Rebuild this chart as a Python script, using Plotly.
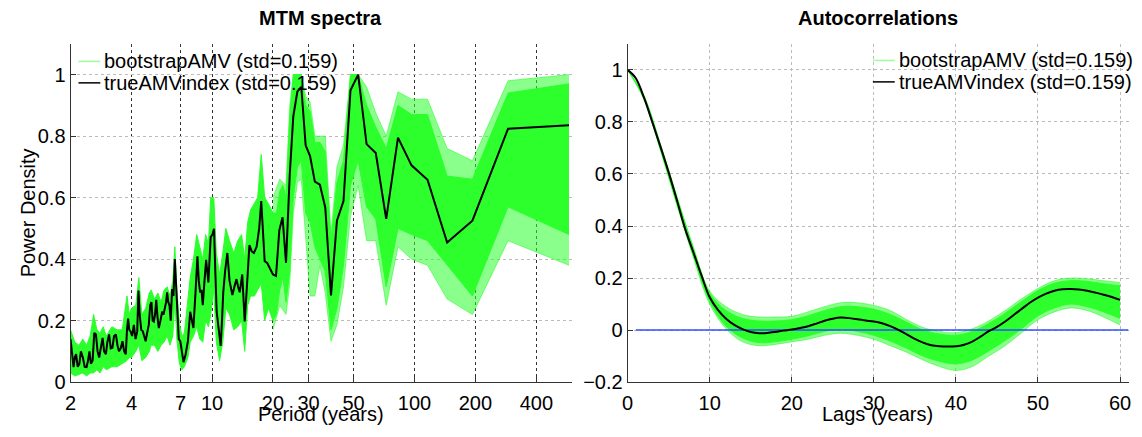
import plotly.graph_objects as go

# ---------------- MTM spectra (left) ----------------
spec_period = [2.0, 2.03, 2.07, 2.10, 2.13, 2.17, 2.21, 2.25, 2.30, 2.35, 2.40, 2.44, 2.48, 2.52, 2.57,
               2.62, 2.67, 2.72, 2.77, 2.82, 2.88, 2.93, 2.99, 3.04, 3.10, 3.16, 3.22, 3.28, 3.35, 3.41,
               3.47, 3.54, 3.61, 3.68, 3.75, 3.80, 3.85, 3.90, 3.96, 4.03, 4.11, 4.19, 4.27, 4.33, 4.39,
               4.47, 4.55, 4.62, 4.70, 4.78, 4.87, 4.95, 5.02, 5.09, 5.16, 5.23, 5.30, 5.38, 5.46, 5.56,
               5.67, 5.76, 5.85, 5.93, 6.0, 6.08, 6.16, 6.25, 6.35, 6.45, 6.55, 6.65, 6.75, 6.85, 6.97,
               7.1, 7.23, 7.4, 7.6, 7.8, 7.95, 8.09, 8.3, 8.47, 8.6, 8.73, 8.87, 9.0, 9.18, 9.35, 9.47,
               9.59, 9.72, 9.85, 10.05, 10.23, 10.38, 10.54, 10.8, 11.03, 11.2, 11.36, 11.6, 11.9, 12.2,
               12.6, 12.9, 13.2, 13.45, 13.7, 14.1, 14.5, 14.9, 15.3, 15.7, 16.1, 16.6, 17.1, 17.5, 18.2,
               18.7, 19.3, 20.0, 20.7, 21.5, 22.3, 23.2, 24.2, 25.2, 26.4, 27.6, 29.0, 30.5, 32.2, 34.1,
               36.25, 38.7, 41.4, 44.6, 48.3, 52.7, 58.0, 64.4, 72.5, 82.9, 96.7, 116.0, 145.0, 193.3,
               290.0, 580.0]
spec_true = [0.14, 0.09, 0.049, 0.08, 0.091, 0.05, 0.059, 0.10, 0.08, 0.05, 0.049, 0.07, 0.10, 0.06, 0.07,
             0.16, 0.155, 0.10, 0.08, 0.11, 0.144, 0.10, 0.091, 0.13, 0.155, 0.11, 0.112, 0.15, 0.155, 0.12,
             0.10, 0.11, 0.133, 0.10, 0.091, 0.17, 0.207, 0.17, 0.165, 0.15, 0.186, 0.14, 0.165, 0.298, 0.22,
             0.17, 0.165, 0.15, 0.133, 0.16, 0.186, 0.25, 0.26, 0.20, 0.197, 0.22, 0.268, 0.21, 0.176, 0.20,
             0.229, 0.22, 0.24, 0.26, 0.292, 0.26, 0.25, 0.20, 0.303, 0.28, 0.40, 0.30, 0.20, 0.14, 0.133,
             0.10, 0.065, 0.09, 0.133, 0.229, 0.20, 0.176, 0.30, 0.409, 0.33, 0.292, 0.30, 0.25, 0.33, 0.398, 0.36,
             0.324, 0.40, 0.472, 0.48, 0.499, 0.36, 0.229, 0.17, 0.118, 0.20, 0.292, 0.36, 0.42, 0.33,
             0.283, 0.31, 0.335, 0.31, 0.292, 0.35, 0.197, 0.32, 0.446, 0.425, 0.42, 0.44, 0.50, 0.589, 0.393,
             0.388, 0.37, 0.35, 0.345, 0.494, 0.536, 0.388, 0.674, 0.864, 0.945, 0.96, 0.77, 0.735, 0.652, 0.642,
             0.568, 0.282, 0.525, 0.589, 0.949, 1.0, 0.774, 0.745, 0.531, 0.795, 0.705, 0.658, 0.454, 0.525,
             0.824, 0.835]

# dense bootstrap envelope (core)
band_period = [2.0, 2.1, 2.2, 2.3, 2.4, 2.5, 2.6, 2.7, 2.8, 2.9, 3.0, 3.2, 3.4, 3.6, 3.8, 3.9, 4.0, 4.2,
               4.35, 4.5, 4.7, 4.9, 5.0, 5.2, 5.4, 5.6, 5.8, 6.0, 6.2, 6.4, 6.55, 6.7, 6.9, 7.1, 7.3, 7.6,
               7.8, 8.1, 8.4, 8.7, 9.0, 9.3, 9.6, 9.85, 10.2, 10.5, 10.9, 11.3, 11.7, 12.2, 12.8, 13.4,
               14.0, 14.5, 15.0, 15.5, 16.2, 16.8, 17.5, 18.2, 19.0, 20.0, 20.8, 21.6, 22.4, 23.2, 24.2,
               25.2, 26.4, 27.6, 29.0, 30.5, 32.2, 34.1, 36.25, 38.7, 41.4, 44.6, 48.3, 52.7, 58.0, 64.4,
               72.5, 82.9, 96.7, 116.0, 145.0, 193.3, 290.0, 580.0]
band_hi = [0.17, 0.13, 0.12, 0.14, 0.12, 0.15, 0.22, 0.17, 0.16, 0.18, 0.15, 0.18, 0.17, 0.17, 0.28, 0.22,
           0.24, 0.25, 0.34, 0.22, 0.24, 0.29, 0.30, 0.27, 0.29, 0.26, 0.30, 0.31, 0.28, 0.33, 0.44, 0.30,
           0.19, 0.15, 0.16, 0.26, 0.34, 0.40, 0.48, 0.44, 0.40, 0.48, 0.45, 0.60, 0.60, 0.42, 0.35, 0.42,
           0.50, 0.46, 0.42, 0.46, 0.48, 0.40, 0.52, 0.56, 0.58, 0.60, 0.74, 0.60, 0.58, 0.55, 0.55, 0.62,
           0.64, 0.60, 0.86, 1.0, 1.0, 1.0, 0.90, 0.88, 0.78, 0.78, 0.75, 0.46, 0.65, 0.72, 1.0, 1.0, 0.90,
           0.83, 0.76, 0.90, 0.87, 0.87, 0.67, 0.66, 0.94, 0.97]
band_lo = [0.03, 0.02, 0.025, 0.03, 0.02, 0.03, 0.03, 0.04, 0.03, 0.05, 0.04, 0.05, 0.05, 0.06, 0.07, 0.08,
           0.08, 0.10, 0.12, 0.07, 0.08, 0.10, 0.12, 0.12, 0.10, 0.12, 0.13, 0.15, 0.12, 0.15, 0.27, 0.14,
           0.06, 0.04, 0.05, 0.08, 0.13, 0.15, 0.18, 0.14, 0.13, 0.20, 0.18, 0.22, 0.30, 0.13, 0.07, 0.13,
           0.24, 0.22, 0.17, 0.18, 0.20, 0.10, 0.25, 0.28, 0.28, 0.30, 0.32, 0.20, 0.24, 0.20, 0.22, 0.30,
           0.34, 0.26, 0.36, 0.60, 0.70, 0.72, 0.55, 0.52, 0.44, 0.40, 0.36, 0.17, 0.24, 0.38, 0.64, 0.72,
           0.57, 0.53, 0.31, 0.50, 0.48, 0.46, 0.38, 0.28, 0.57, 0.48]

# sparse outlying bootstrap members (long periods)
out_period = [20.0, 21.6, 23.2, 24.2, 25.2, 26.4, 27.6, 29.0, 30.5, 32.2, 34.1, 36.25, 38.7, 41.4, 44.6,
              48.3, 52.7, 58.0, 64.4, 72.5, 82.9, 96.7, 116.0, 145.0, 193.3, 290.0, 580.0]
out_hi = [0.60, 0.66, 0.64, 0.90, 1.0, 1.0, 1.0, 0.93, 0.91, 0.80, 0.80, 0.80, 0.48, 0.70, 0.77,
          1.0, 1.0, 0.96, 0.875, 0.80, 0.944, 0.92, 0.92, 0.76, 0.72, 0.98, 1.0]
out_lo = [0.17, 0.25, 0.22, 0.32, 0.55, 0.65, 0.66, 0.48, 0.28, 0.28, 0.38, 0.29, 0.133, 0.187, 0.31,
          0.54, 0.64, 0.46, 0.46, 0.25, 0.44, 0.40, 0.38, 0.27, 0.22, 0.46, 0.38]

period_ticks = [2, 4, 7, 10, 20, 30, 50, 100, 200, 400]
spec_yticks = [0, 0.2, 0.4, 0.6, 0.8, 1.0]
spec_yticklabels = ["0", "0.2", "0.4", "0.6", "0.8", "1"]

# ---------------- Autocorrelations (right) ----------------
lags = list(range(61))
acf_true = [1.0, 0.968, 0.893, 0.80, 0.705, 0.606, 0.50, 0.39, 0.30, 0.21, 0.126, 0.078, 0.044, 0.02,
            0.004, -0.007, -0.012, -0.011, -0.007, -0.002, 0.002, 0.008, 0.015, 0.025, 0.036, 0.044,
            0.048, 0.046, 0.042, 0.037, 0.033, 0.026, 0.015, 0.001, -0.016, -0.034, -0.048, -0.058,
            -0.062, -0.063, -0.062, -0.056, -0.044, -0.025, -0.004, 0.012, 0.033, 0.057, 0.081, 0.105,
            0.125, 0.14, 0.151, 0.157, 0.158, 0.156, 0.151, 0.144, 0.136, 0.127, 0.116]
acf_band_lags = [0, 2, 4, 6, 8, 10, 12, 14, 16, 18, 20, 22, 24, 26, 28, 30, 32, 34, 36, 38, 40, 42, 44,
                 46, 48, 50, 52, 54, 56, 58, 60]
acf_out_hi = [1.0, 0.90, 0.715, 0.515, 0.32, 0.15, 0.09, 0.06, 0.05, 0.05, 0.053, 0.07, 0.09, 0.105, 0.105,
              0.095, 0.075, 0.04, 0.01, -0.005, -0.01, 0.005, 0.035, 0.075, 0.12, 0.16, 0.19, 0.20, 0.197,
              0.19, 0.183]
acf_out_lo = [1.0, 0.886, 0.69, 0.48, 0.28, 0.10, 0.005, -0.045, -0.06, -0.055, -0.045, -0.035, -0.02,
              -0.012, -0.02, -0.035, -0.06, -0.085, -0.115, -0.14, -0.155, -0.14, -0.10, -0.06, -0.01,
              0.04, 0.07, 0.085, 0.075, 0.05, 0.02]
acf_core_hi = [1.0, 0.898, 0.712, 0.51, 0.315, 0.142, 0.075, 0.045, 0.035, 0.035, 0.04, 0.055, 0.075, 0.09,
               0.09, 0.08, 0.06, 0.03, 0.0, -0.015, -0.02, -0.005, 0.025, 0.065, 0.11, 0.152, 0.18, 0.19,
               0.187, 0.178, 0.17]
acf_core_lo = [1.0, 0.888, 0.695, 0.487, 0.287, 0.11, 0.015, -0.03, -0.048, -0.045, -0.035, -0.022, -0.005,
               0.003, -0.005, -0.02, -0.042, -0.07, -0.1, -0.12, -0.13, -0.115, -0.08, -0.04, 0.005, 0.055,
               0.085, 0.1, 0.09, 0.07, 0.045]
zero_x = [1, 61]
zero_y = [0, 0]
lag_ticks = [0, 10, 20, 30, 40, 50, 60]
acf_yticks = [-0.2, 0, 0.2, 0.4, 0.6, 0.8, 1.0]
acf_yticklabels = ["\u22120.2", "0", "0.2", "0.4", "0.6", "0.8", "1"]

legend_labels = ["bootstrapAMV (std=0.159)", "trueAMVindex (std=0.159)"]

# ---------------- styling ----------------
W, H = 1142, 437
FONT = "Liberation Sans, Arial, Helvetica, sans-serif"
GREEN = "#2cff2c"
GREEN_LIGHT = "rgba(44,255,44,0.6)"
GREEN_FILL_LIGHT = "rgba(44,255,44,0.55)"
LEGEND_GREEN = "#9cff9c"


def px(x):
    return x / W


def py(y):
    return 1 - y / H


fig = go.Figure()

# left: outliers, core band, true line
fig.add_trace(go.Scatter(x=out_period, y=out_lo, mode="lines", line=dict(color=GREEN_LIGHT, width=1),
                         showlegend=False, hoverinfo="skip", xaxis="x", yaxis="y"))
fig.add_trace(go.Scatter(x=out_period, y=out_hi, mode="lines", line=dict(color=GREEN_LIGHT, width=1),
                         fill="tonexty", fillcolor=GREEN_FILL_LIGHT,
                         showlegend=False, hoverinfo="skip", xaxis="x", yaxis="y"))
fig.add_trace(go.Scatter(x=band_period, y=band_lo, mode="lines", line=dict(color=GREEN, width=1),
                         showlegend=False, hoverinfo="skip", xaxis="x", yaxis="y"))
fig.add_trace(go.Scatter(x=band_period, y=band_hi, mode="lines", line=dict(color=GREEN, width=1),
                         fill="tonexty", fillcolor=GREEN,
                         showlegend=False, hoverinfo="skip", xaxis="x", yaxis="y"))
fig.add_trace(go.Scatter(x=spec_period, y=spec_true, mode="lines", line=dict(color="black", width=2),
                         showlegend=False, hoverinfo="skip", xaxis="x", yaxis="y"))

# right
fig.add_trace(go.Scatter(x=acf_band_lags, y=acf_out_lo, mode="lines", line=dict(color=GREEN_LIGHT, width=1, shape="spline"),
                         showlegend=False, hoverinfo="skip", xaxis="x2", yaxis="y2"))
fig.add_trace(go.Scatter(x=acf_band_lags, y=acf_out_hi, mode="lines", line=dict(color=GREEN_LIGHT, width=1, shape="spline"),
                         fill="tonexty", fillcolor=GREEN_FILL_LIGHT,
                         showlegend=False, hoverinfo="skip", xaxis="x2", yaxis="y2"))
fig.add_trace(go.Scatter(x=acf_band_lags, y=acf_core_lo, mode="lines", line=dict(color=GREEN, width=1, shape="spline"),
                         showlegend=False, hoverinfo="skip", xaxis="x2", yaxis="y2"))
fig.add_trace(go.Scatter(x=acf_band_lags, y=acf_core_hi, mode="lines", line=dict(color=GREEN, width=1, shape="spline"),
                         fill="tonexty", fillcolor=GREEN,
                         showlegend=False, hoverinfo="skip", xaxis="x2", yaxis="y2"))
fig.add_trace(go.Scatter(x=zero_x, y=zero_y, mode="lines", line=dict(color="#2f4dff", width=1.5),
                         showlegend=False, hoverinfo="skip", xaxis="x2", yaxis="y2"))
fig.add_trace(go.Scatter(x=lags, y=acf_true, mode="lines", line=dict(color="black", width=2, shape="spline"),
                         showlegend=False, hoverinfo="skip", xaxis="x2", yaxis="y2"))

ydom = [py(392), py(45)]
axis_common = dict(showline=True, linecolor="#333", linewidth=1, ticks="inside", ticklen=5,
                   tickcolor="#333", zeroline=False, mirror=False,
                   tickfont=dict(family=FONT, size=20, color="black"))

fig.update_layout(
    width=W, height=H, margin=dict(l=0, r=0, t=0, b=0),
    paper_bgcolor="white", plot_bgcolor="white", showlegend=False,
    xaxis=dict(domain=[px(65), px(570)], type="log", range=[0.30103, 2.7782],
               tickvals=period_ticks, ticktext=[str(v) for v in period_ticks],
               showgrid=True, gridcolor="#333", griddash="dot", gridwidth=1, anchor="y",
               ticklabelstandoff=3, **axis_common),
    yaxis=dict(domain=ydom, range=[0, 1.1], tickvals=spec_yticks, ticktext=spec_yticklabels,
               showgrid=True, gridcolor="#bbbbbb", griddash="dot", gridwidth=1, anchor="x",
               **axis_common),
    xaxis2=dict(domain=[px(626), px(1131)], range=[0, 61.1], tickvals=lag_ticks,
                showgrid=True, gridcolor="#bbbbbb", griddash="dot", gridwidth=1, anchor="y2",
                ticklabelstandoff=3, **axis_common),
    yaxis2=dict(domain=ydom, range=[-0.2, 1.1], tickvals=acf_yticks, ticktext=acf_yticklabels,
                showgrid=True, gridcolor="#bbbbbb", griddash="dot", gridwidth=1, anchor="x2",
                **axis_common),
)

ann = []
def text(x, y, s, size=20, bold=False, xanchor="center", angle=0, yanchor="middle"):
    ann.append(dict(x=px(x), y=py(y), xref="paper", yref="paper", text=("<b>%s</b>" % s) if bold else s,
                    showarrow=False, xanchor=xanchor, yanchor=yanchor, textangle=angle,
                    font=dict(family=FONT, size=size, color="black")))

text(317, 18, "MTM spectra", bold=True)
text(878, 18, "Autocorrelations", bold=True)
text(317, 411, "Period (years)", yanchor="top")
text(878, 411, "Lags (years)", yanchor="top")
text(22, 218, "Power Density", angle=-90)

shapes = []
for (x0, textx, y1, y2) in [(73, 97, 63, 85), (873, 897, 62, 84)]:
    shapes.append(dict(type="line", xref="paper", yref="paper", x0=px(x0), x1=px(x0 + 22),
                       y0=py(y1), y1=py(y1), line=dict(color=LEGEND_GREEN, width=1.5)))
    shapes.append(dict(type="line", xref="paper", yref="paper", x0=px(x0), x1=px(x0 + 22),
                       y0=py(y2), y1=py(y2), line=dict(color="black", width=1.5)))
    text(textx, y1, legend_labels[0], xanchor="left")
    text(textx, y2, legend_labels[1], xanchor="left")

fig.update_layout(annotations=ann, shapes=shapes)
fig.write_html("out.html")
